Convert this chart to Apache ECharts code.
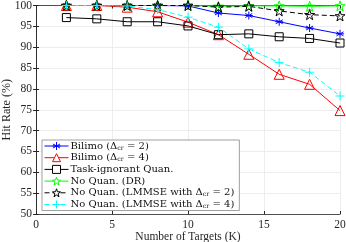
<!DOCTYPE html>
<html><head><meta charset="utf-8">
<script src="https://cdn.jsdelivr.net/npm/echarts@6/dist/echarts.min.js"></script>
<style>html,body{margin:0;padding:0;background:#fff}#c{width:346px;height:242px}</style>
</head><body><div id="c"></div>
<script>
var xs = [2,4,6,8,10,12,14,16,18,20];
var bilimo2 = [100,100,100,100,99.9,98.2,97.6,96.1,94.6,93.2];
var bilimo4 = [100,100,99.6,98.5,96.0,93.0,88.3,83.5,81.1,74.8];
var taskIgn = [97.1,96.8,96.1,96.1,95.1,93.0,93.2,92.5,92.1,91.0];
var noQuanDR = [100,100,100,100,100,99.8,99.9,99.9,99.8,99.9];
var lmmse2 = [100,100,100,100,100,99.6,99.8,98.7,97.8,97.5];
var lmmse4 = [100,100,99.9,99.0,97.2,94.8,89.6,86.3,84.0,78.3];
var names = ['Bilimo (Δ{s|cr} = 2)','Bilimo (Δ{s|cr} = 4)','Task-ignorant Quan.','No Quan. (DR)','No Quan. (LMMSE with Δ{s|cr} = 2)','No Quan. (LMMSE with Δ{s|cr} = 4)'];
var colors = ['#0000ff','#ff0000','#000000','#00ff00','#000000','#00ffff'];
var xTicks = [0,5,10,15,20];
var yTicks = [50,55,60,65,70,75,80,85,90,95,100];

function pts(a){return xs.map(function(x,i){return [x,a[i]];});}
var FONT = 'Liberation Serif';
var LFONT = 'DejaVu Serif';
var star = 'path://M0,-10L2.35,-3.24L9.51,-3.09L3.8,1.24L5.88,8.09L0,4L-5.88,8.09L-3.8,1.24L-9.51,-3.09L-2.35,-3.24Z';
var aster = 'path://M0,-1L0,1M-0.87,-0.5L0.87,0.5M-0.87,0.5L0.87,-0.5M-1,0L1,0';
var plus = 'path://M0,-1L0,1M-1,0L1,0';

function ser(name, data, color, symbol, size, dashed){
  return {name:name, type:'line', data:pts(data), symbol:symbol, symbolSize:size,
    lineStyle:{color:color, width:1, type: dashed ? [5,3] : 'solid'},
    itemStyle:{color:'rgba(255,255,255,0)', borderColor:color, borderWidth:1},
    showAllSymbol:true, z:3, animation:false};
}
var chart = echarts.init(document.getElementById('c'));
chart.setOption({
  animation:false,
  backgroundColor:'#fff',
  grid:{left:36, right:6, top:5.5, bottom:28, containLabel:false, outerBoundsMode:'none'},
  xAxis:[{type:'value', min:0, max:20, interval:5, name:'Number of Targets (K)', nameLocation:'middle', nameGap:17, nameMoveOverlap:false,
    nameTextStyle:{fontFamily:FONT, fontSize:11.5, color:'#262626'},
    axisLine:{lineStyle:{color:'#262626', width:0.8}}, axisTick:{inside:true, length:3, lineStyle:{color:'#262626'}},
    axisLabel:{fontFamily:FONT, fontSize:11.5, color:'#262626', margin:5},
    splitLine:{show:true, lineStyle:{color:'#e8e8e8', width:0.8}}},
    {type:'value', position:'top', min:0, max:20, interval:5, axisLine:{show:true, lineStyle:{color:'#262626', width:0.8}}, axisTick:{inside:true, length:3, lineStyle:{color:'#262626'}}, axisLabel:{show:false}, splitLine:{show:false}}],
  yAxis:[{type:'value', min:50, max:100, interval:5, name:'Hit Rate (%)', nameLocation:'middle', nameGap:23, nameMoveOverlap:false,
    nameTextStyle:{fontFamily:FONT, fontSize:12, color:'#262626'},
    axisLine:{show:true, lineStyle:{color:'#262626', width:0.8}}, axisTick:{show:true, inside:true, length:3, lineStyle:{color:'#262626'}},
    axisLabel:{fontFamily:FONT, fontSize:11.5, color:'#262626', margin:4},
    splitLine:{show:true, lineStyle:{color:'#e8e8e8', width:0.8}}},
    {type:'value', position:'right', min:50, max:100, interval:5, axisLine:{show:true, lineStyle:{color:'#262626', width:0.8}}, axisTick:{show:true, inside:true, length:3, lineStyle:{color:'#262626'}}, axisLabel:{show:false}, splitLine:{show:false}}],
  legend:{left:42, top:140, orient:'vertical', itemGap:1.7, itemWidth:24, itemHeight:10,
    backgroundColor:'#fff', borderColor:'#888', borderWidth:0.8, borderRadius:0, padding:[1,5,1,2],
    lineStyle:{width:1},
    textStyle:{fontFamily:LFONT, fontSize:10, color:'#111', lineHeight:10, padding:[0,0,0,-3],
      rich:{s:{fontFamily:LFONT, fontSize:6.3, color:'#111', lineHeight:10, padding:[4,0,0,0]}}},
    data:names.map(function(n,i){return {name:n, itemStyle:{color:'#ffffff', borderColor:colors[i], borderWidth:1}};})},
  series:[
    ser(names[0], bilimo2, colors[0], aster, 8, false),
    ser(names[1], bilimo4, colors[1], 'triangle', 10, false),
    ser(names[2], taskIgn, colors[2], 'rect', 8, false),
    ser(names[3], noQuanDR, colors[3], star, 10, false),
    ser(names[4], lmmse2, colors[4], star, 10, true),
    ser(names[5], lmmse4, colors[5], plus, 9, true)
  ]
});
</script></body></html>
